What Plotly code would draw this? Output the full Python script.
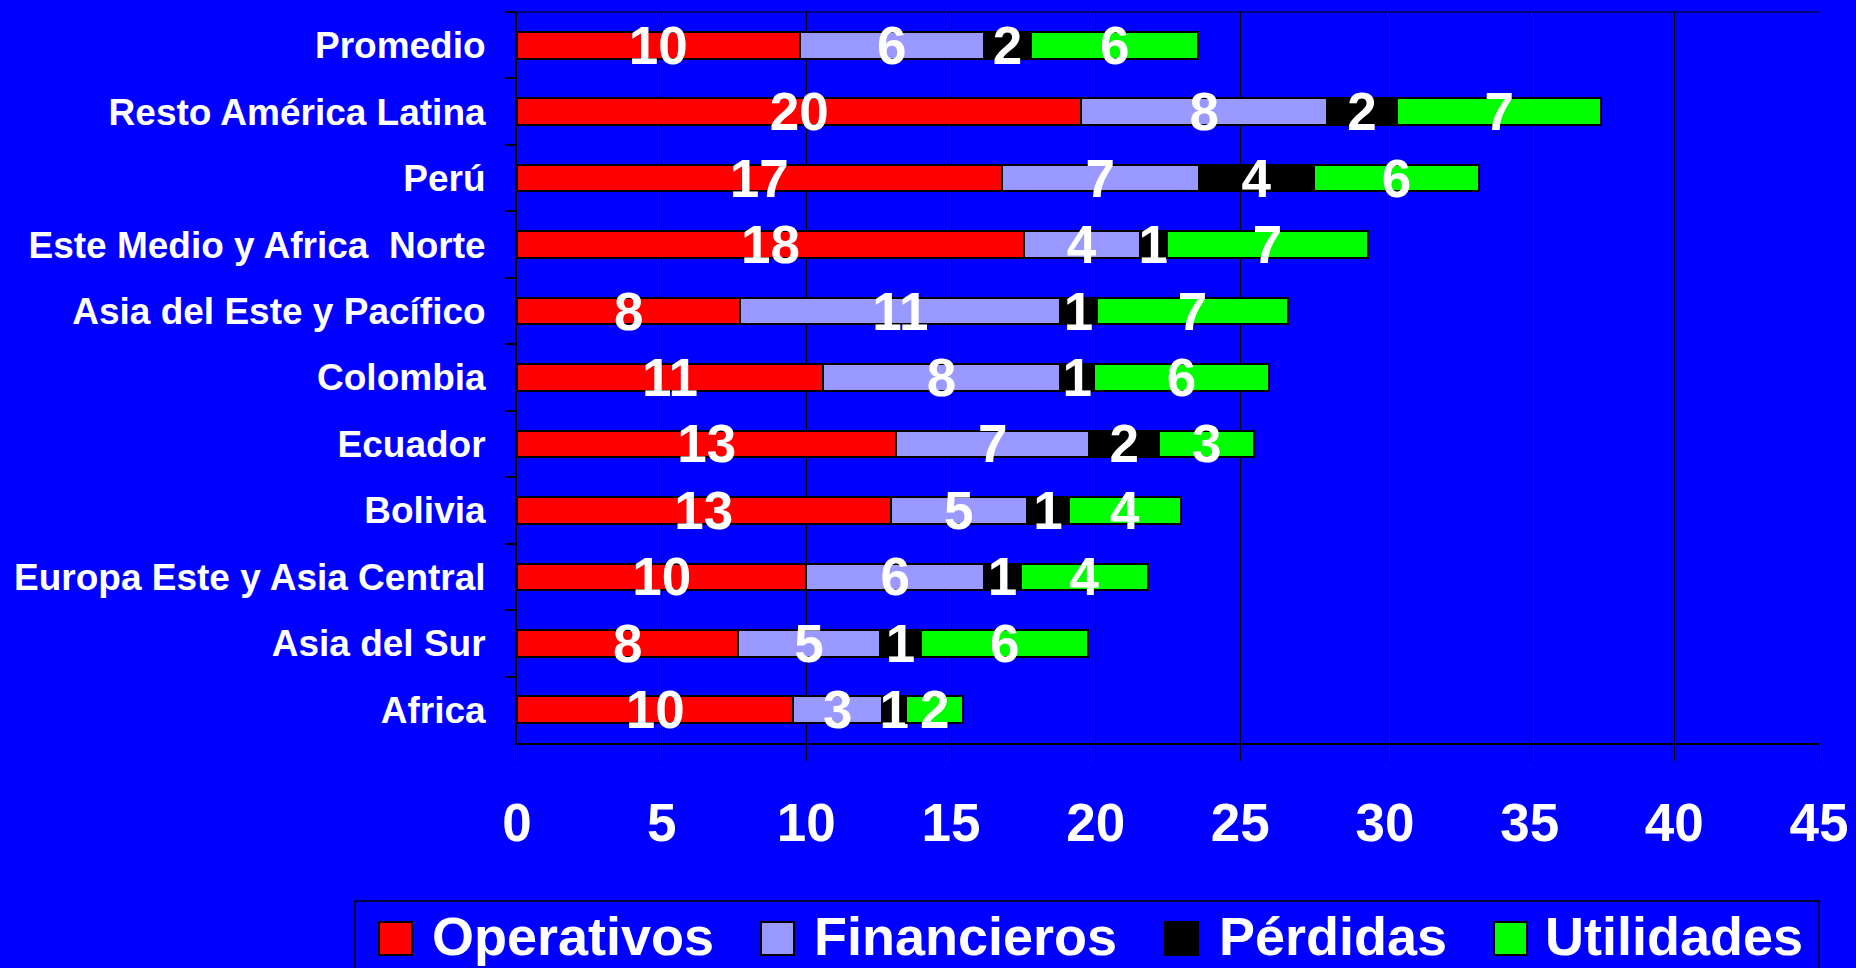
import plotly.graph_objects as go

categories = ["Promedio", "Resto América Latina", "Perú", "Este Medio y Africa  Norte",
              "Asia del Este y Pacífico", "Colombia", "Ecuador", "Bolivia",
              "Europa Este y Asia Central", "Asia del Sur", "Africa"]
operativos = [9.77, 19.51, 16.75, 17.52, 7.72, 10.57, 13.11, 12.91, 10.00, 7.65, 9.55]
financieros = [6.37, 8.48, 6.82, 4.00, 11.06, 8.21, 6.67, 4.71, 6.14, 4.88, 3.07]
perdidas = [1.63, 2.43, 3.98, 0.94, 1.25, 1.16, 2.42, 1.46, 1.28, 1.45, 0.83]
utilidades = [5.77, 7.05, 5.69, 6.96, 6.63, 6.06, 3.28, 3.87, 4.38, 5.75, 1.97]

series_names = ["Operativos", "Financieros", "Pérdidas", "Utilidades"]
series_values = [operativos, financieros, perdidas, utilidades]
series_colors = ["#FF0000", "#9999FF", "#000000", "#00FF00"]

x_ticks = [0, 5, 10, 15, 20, 25, 30, 35, 40, 45]

FONT = "Liberation Sans, Arial, sans-serif"
BLUE = "#0000FF"

W, H = 1856, 968
L, T = 517, 12
R = W - 1819
B = H - 743
PW = W - L - R
PH = H - T - B


def px_x(px):
    return (px - L) / PW


def px_y(py):
    return (H - B - py) / PH


fig = go.Figure()
for name, vals, col in zip(series_names, series_values, series_colors):
    fig.add_trace(go.Bar(
        y=categories, x=vals, name=name, orientation="h",
        marker=dict(color=col, line=dict(color="#000000", width=2)),
        texttemplate="%{x:.0f}", textposition="inside", insidetextanchor="middle",
        textangle=0, constraintext="none", cliponaxis=False,
        insidetextfont=dict(family=FONT, size=53, color="white", weight="bold"),
        showlegend=False,
    ))

# manual legend (large swatches like the original)
swatch_left = [379, 761, 1165, 1494]
text_left = [430, 812, 1217, 1543]
shapes = [dict(type="rect", xref="paper", yref="paper",
               x0=px_x(355), x1=px_x(1819), y0=px_y(901), y1=px_y(990),
               line=dict(color="#000000", width=1.5), fillcolor=BLUE, layer="below")]
annotations = []
for name, col, sx, tx in zip(series_names, series_colors, swatch_left, text_left):
    shapes.append(dict(type="rect", xref="paper", yref="paper",
                       x0=px_x(sx), x1=px_x(sx + 33), y0=px_y(922), y1=px_y(955),
                       line=dict(color="#000000", width=2), fillcolor=col))
    annotations.append(dict(text=name, xref="paper", yref="paper", x=px_x(tx), y=px_y(936),
                            xanchor="left", yanchor="middle", showarrow=False,
                            font=dict(family=FONT, size=54, color="white", weight="bold")))
# top border of plot area
shapes.append(dict(type="line", xref="paper", yref="paper", x0=0, x1=1, y0=1, y1=1,
                   line=dict(color="#000000", width=1)))

fig.update_layout(
    width=W, height=H,
    margin=dict(l=L, r=R, t=T, b=B, autoexpand=False),
    paper_bgcolor=BLUE, plot_bgcolor=BLUE,
    barmode="stack", bargap=0.6,
    showlegend=False,
    shapes=shapes, annotations=annotations,
    xaxis=dict(range=[0, 45], tickvals=x_ticks, ticktext=[str(v) for v in x_ticks],
               showgrid=True, gridcolor="#000000", gridwidth=1, zeroline=False,
               showline=True, linecolor="#000000", linewidth=2,
               ticks="outside", ticklen=16, tickcolor="#000000", tickwidth=1,
               ticklabelstandoff=16,
               tickfont=dict(family=FONT, size=53, color="white", weight="bold"),
               automargin=False),
    yaxis=dict(autorange="reversed", showgrid=False, zeroline=False,
               showline=True, linecolor="#000000", linewidth=2,
               ticks="outside", tickson="boundaries", ticklen=10, tickcolor="#000000", tickwidth=1.5,
               ticklabelstandoff=22,
               tickfont=dict(family=FONT, size=37, color="white", weight="bold"),
               automargin=False),
)

fig.write_html(
    "out.html",
    config={"displayModeBar": False},
    post_script="document.body.style.margin='0';document.body.style.overflow='hidden';"
                "document.body.style.background='#0000FF';",
)
